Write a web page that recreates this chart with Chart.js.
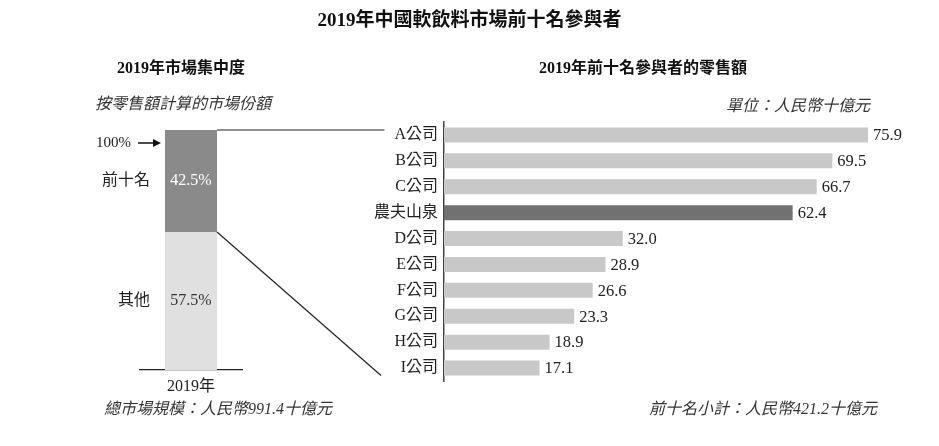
<!DOCTYPE html>
<html>
<head>
<meta charset="utf-8">
<script src="https://cdn.jsdelivr.net/npm/chart.js@4.4.1/dist/chart.umd.min.js"></script>
<style>
    body { margin: 0; background: #fff; }
    #page { position: relative; width: 939px; height: 446px; overflow: hidden; font-family: "Liberation Serif", "Noto Sans CJK TC", serif; color: #222; }
    .layer { position: absolute; left: 0; top: 0; width: 939px; height: 446px; }
    .txt { position: absolute; line-height: 20px; height: 20px; white-space: nowrap; }
    .bold { font-weight: bold; color: #111; }
    .it { font-style: italic; font-size: 16px; color: #333; }
</style>
</head>
<body>
<div id="page">
    <div class="layer"><canvas id="shareChart"></canvas></div>
    <div class="layer"><canvas id="salesChart"></canvas></div>

    <div class="txt bold" style="left:0; width:939px; text-align:center; top:10px; font-size:19px;">2019年中國軟飲料市場前十名參與者</div>
    <div class="txt bold" style="left:117px; top:58px; font-size:16px;">2019年市場集中度</div>
    <div class="txt bold" style="left:443px; width:400px; text-align:center; top:58px; font-size:16px;">2019年前十名參與者的零售額</div>
    <div class="txt it" style="left:95px; top:94px;">按零售額計算的市場份額</div>
    <div class="txt it" style="right:69px; top:96px;">單位：人民幣十億元</div>
    <div class="txt it" style="left:18px; width:400px; text-align:center; top:399px;">總市場規模：人民幣991.4十億元</div>
    <div class="txt it" style="right:62px; top:399px;">前十名小計：人民幣421.2十億元</div>
</div>

<script>
// ---------- données ----------
const shareYear = ["2019年"];
const shareGroups = ["其他", "前十名"];
const shareValues = [57.5, 42.5];
const shareColors = ["#e0e0e0", "#8a8a8a"];

const companies = ["A公司", "B公司", "C公司", "農夫山泉", "D公司", "E公司", "F公司", "G公司", "H公司", "I公司"];
const sales = [75.9, 69.5, 66.7, 62.4, 32.0, 28.9, 26.6, 23.3, 18.9, 17.1];
const highlight = "農夫山泉";

const FONT = '"Liberation Serif", "Noto Sans CJK TC", serif';
Chart.defaults.font.family = FONT;
Chart.defaults.color = "#222";
Chart.defaults.animation = false;

// ---------- graphique de gauche : part de marché ----------
const shareLabelsPlugin = {
    id: "shareLabels",
    afterDatasetsDraw(chart) {
        const ctx = chart.ctx;
        ctx.save();
        ctx.font = "16px " + FONT;
        ctx.textBaseline = "middle";
        shareGroups.forEach((name, i) => {
            const bar = chart.getDatasetMeta(i).data[0];
            const midY = (bar.y + bar.base) / 2;
            // valeur dans la barre
            ctx.textAlign = "center";
            ctx.fillStyle = i === 1 ? "#fff" : "#333";
            ctx.fillText(shareValues[i].toFixed(1) + "%", bar.x, midY);
            // nom du groupe à gauche
            ctx.textAlign = "right";
            ctx.fillStyle = "#222";
            ctx.fillText(name, bar.x - bar.width / 2 - 15, midY);
        });

        // 100% →
        const top = chart.getDatasetMeta(1).data[0];
        const left = top.x - top.width / 2;
        const ay = top.y + 13;
        ctx.font = "15px " + FONT;
        ctx.textAlign = "right";
        ctx.fillText("100%", left - 34, ay);
        ctx.strokeStyle = "#111";
        ctx.lineWidth = 1.5;
        ctx.beginPath();
        ctx.moveTo(left - 27, ay);
        ctx.lineTo(left - 10, ay);
        ctx.stroke();
        ctx.fillStyle = "#111";
        ctx.beginPath();
        ctx.moveTo(left - 4, ay);
        ctx.lineTo(left - 12, ay - 4);
        ctx.lineTo(left - 12, ay + 4);
        ctx.closePath();
        ctx.fill();
        ctx.restore();
    }
};

const shareChart = new Chart(document.getElementById("shareChart"), {
    type: "bar",
    data: {
        labels: shareYear,
        datasets: shareGroups.map((g, i) => ({
            label: g,
            data: [shareValues[i]],
            backgroundColor: shareColors[i],
            barPercentage: 0.51,
            categoryPercentage: 1
        }))
    },
    options: {
        responsive: true,
        maintainAspectRatio: false,
        layout: { padding: { left: 140, right: 697, top: 130, bottom: 48 } },
        plugins: { legend: { display: false }, tooltip: { enabled: false } },
        scales: {
            x: {
                stacked: true,
                grid: { display: false, drawTicks: false },
                border: { color: "#222", width: 1.3 },
                ticks: { font: { size: 16 }, color: "#222", padding: 7 },
                afterFit(scale) { scale.height = 28; }
            },
            y: { stacked: true, min: 0, max: 100, display: false }
        }
    },
    plugins: [shareLabelsPlugin]
});

// ---------- graphique de droite : top 10 ----------
const salesLabelsPlugin = {
    id: "salesLabels",
    afterDatasetsDraw(chart) {
        const ctx = chart.ctx;
        const meta = chart.getDatasetMeta(0);
        ctx.save();
        ctx.font = "16.5px " + FONT;
        ctx.textBaseline = "middle";
        ctx.textAlign = "left";
        ctx.fillStyle = "#222";
        meta.data.forEach((bar, i) => {
            ctx.fillText(sales[i].toFixed(1), bar.x + 5, bar.y + 1);
        });

        // lignes de liaison vers la barre de gauche
        const topBar = shareChart.getDatasetMeta(1).data[0];
        const right = topBar.x + topBar.width / 2;
        const last = meta.data[meta.data.length - 1];
        ctx.font = "16px " + FONT;
        const labelW = ctx.measureText(companies[0]).width;
        const axisX = chart.chartArea.left;
        ctx.strokeStyle = "#222";
        ctx.lineWidth = 1.2;
        ctx.beginPath();
        ctx.moveTo(right, topBar.y);
        ctx.lineTo(axisX - 6 - labelW - 10, topBar.y);
        ctx.moveTo(right, topBar.base);
        ctx.lineTo(axisX - 63, last.y + last.height / 2);
        ctx.stroke();
        ctx.restore();
    }
};

new Chart(document.getElementById("salesChart"), {
    type: "bar",
    data: {
        labels: companies,
        datasets: [{
            data: sales,
            backgroundColor: companies.map(c => c === highlight ? "#717171" : "#c8c8c8"),
            barPercentage: 0.58,
            categoryPercentage: 1
        }]
    },
    options: {
        indexAxis: "y",
        responsive: true,
        maintainAspectRatio: false,
        layout: { padding: { left: 364, right: 48, top: 122, bottom: 65 } },
        plugins: { legend: { display: false }, tooltip: { enabled: false } },
        scales: {
            x: { display: false, min: 0, max: 80 },
            y: {
                grid: { display: false, drawTicks: false },
                border: { color: "#444", width: 1.5 },
                ticks: { font: { size: 16 }, color: "#222", padding: 6 },
                afterFit(scale) { scale.width = 80; }
            }
        }
    },
    plugins: [salesLabelsPlugin]
});
</script>
</body>
</html>
